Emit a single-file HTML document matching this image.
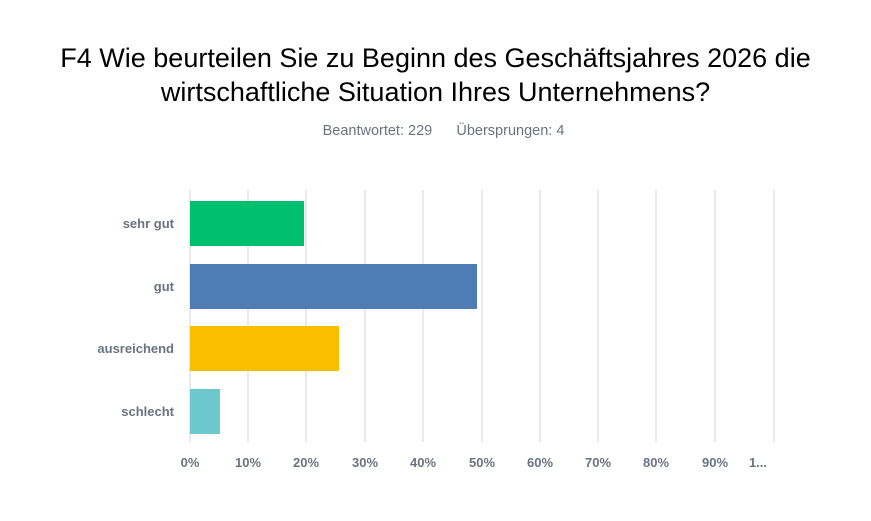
<!DOCTYPE html>
<html><head><meta charset="utf-8"><style>
body{margin:0;width:871px;height:521px;background:#fff;font-family:"Liberation Sans",sans-serif;overflow:hidden;position:relative}
.t{position:absolute;left:0;width:871px;text-align:center;font-size:27px;color:#000;line-height:34px}
.s{position:absolute;top:123px;left:8px;width:871px;text-align:center;font-size:14.5px;color:#6a7380}
.g{position:absolute;top:190px;height:252px;width:2px;background:#e8e9ea}
.b{position:absolute;left:190px;height:45px}
.l{position:absolute;right:697px;font-size:13px;font-weight:bold;color:#6a7380;text-align:right;white-space:nowrap}
.x{position:absolute;top:455px;font-size:13px;font-weight:bold;color:#6a7380;width:60px;text-align:center}
</style></head><body>
<div class="t" style="top:41px">F4 Wie beurteilen Sie zu Beginn des Geschäftsjahres 2026 die</div>
<div class="t" style="top:75px">wirtschaftliche Situation Ihres Unternehmens?</div>
<div class="s">Beantwortet: 229&nbsp;&nbsp;&nbsp;&nbsp;&nbsp;&nbsp;Übersprungen: 4</div>
<div class="g" style="left:189px"></div><div class="g" style="left:247px"></div><div class="g" style="left:305px"></div><div class="g" style="left:364px"></div><div class="g" style="left:422px"></div><div class="g" style="left:481px"></div><div class="g" style="left:539px"></div><div class="g" style="left:597px"></div><div class="g" style="left:655px"></div><div class="g" style="left:714px"></div><div class="g" style="left:773px"></div>
<div class="b" style="top:201px;width:114px;background:#00bf6f"></div>
<div class="b" style="top:264px;width:287px;background:#507cb6"></div>
<div class="b" style="top:326px;width:149px;background:#f9be00"></div>
<div class="b" style="top:389px;width:30px;background:#6bc8cd"></div>
<div class="l" style="top:216px">sehr gut</div>
<div class="l" style="top:279px">gut</div>
<div class="l" style="top:341px">ausreichend</div>
<div class="l" style="top:404px">schlecht</div>
<div class="x" style="left:160px">0%</div><div class="x" style="left:218px">10%</div><div class="x" style="left:276px">20%</div><div class="x" style="left:335px">30%</div><div class="x" style="left:393px">40%</div><div class="x" style="left:452px">50%</div><div class="x" style="left:510px">60%</div><div class="x" style="left:568px">70%</div><div class="x" style="left:626px">80%</div><div class="x" style="left:685px">90%</div><div class="x" style="left:728px">1...</div>
</body></html>
